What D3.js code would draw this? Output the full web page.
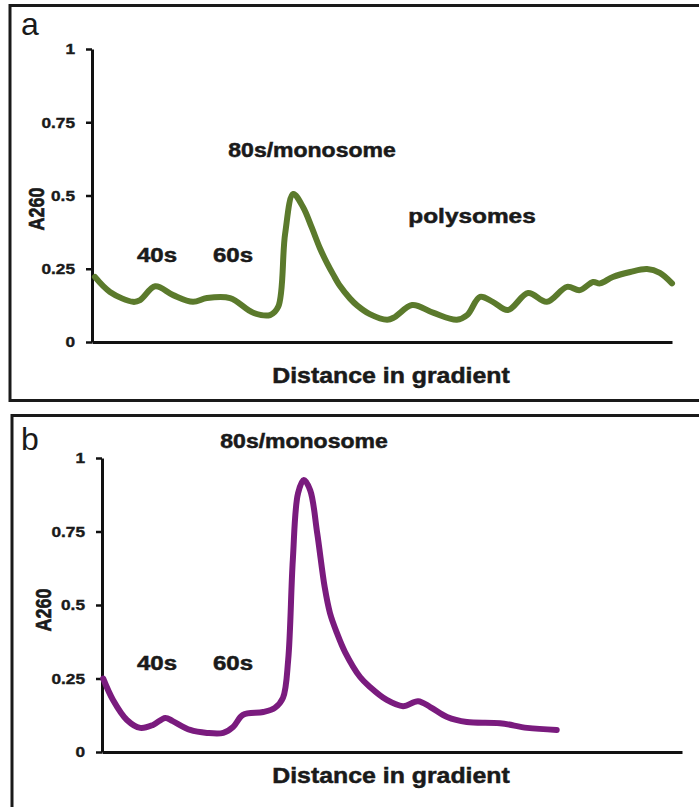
<!DOCTYPE html>
<html>
<head>
<meta charset="utf-8">
<script src="https://cdn.jsdelivr.net/npm/d3@7"></script>
<style>
  html, body { margin: 0; padding: 0; background: #fff; }
  svg { display: block; }
  text { font-family: "Liberation Sans", Arial, sans-serif; }
</style>
</head>
<body>
<svg id="chart" width="699" height="807"></svg>
<script>
// ---- data ----
const yTicks = [0, 0.25, 0.5, 0.75, 1];
const yTickLabels = ["0", "0.25", "0.5", "0.75", "1"];

// Panel a: distance in gradient (0-100) vs A260
const distA = [0.5, 3.1, 7.1, 8.3, 10.9, 14.0, 17.4, 19.8, 23.8, 27.8, 30.7, 32.1, 33.3, 34.7, 36.4, 37.9, 39.3, 40.5, 41.6, 42.8, 44.5, 45.7, 47.9, 50.9, 52.2, 55.2, 58.8, 62.9, 64.7, 66.9, 69.1, 71.7, 75.2, 78.4, 81.9, 84.1, 86.4, 87.6, 89.8, 92.8, 95.7, 97.9, 100];
const a260A = [0.222, 0.171, 0.137, 0.143, 0.19, 0.16, 0.137, 0.15, 0.15, 0.10, 0.092, 0.12, 0.37, 0.505, 0.46, 0.39, 0.32, 0.27, 0.23, 0.19, 0.148, 0.125, 0.095, 0.076, 0.085, 0.126, 0.10, 0.076, 0.092, 0.154, 0.137, 0.109, 0.167, 0.137, 0.188, 0.177, 0.205, 0.20, 0.222, 0.239, 0.249, 0.236, 0.20];

// Panel b
const distB = [0.2, 1.9, 4.3, 6.6, 8.8, 10.9, 12.2, 15.2, 18.1, 20.9, 22.6, 24.3, 27.8, 29.8, 31.2, 32.1, 32.9, 33.8, 34.8, 35.9, 37.1, 38.4, 39.3, 40.5, 41.9, 44.5, 46.2, 49.1, 51.9, 54.5, 56.6, 59.5, 62.9, 68.6, 73.3, 78.4];
const a260B = [0.25, 0.177, 0.109, 0.082, 0.092, 0.116, 0.105, 0.075, 0.065, 0.065, 0.085, 0.126, 0.136, 0.15, 0.184, 0.313, 0.653, 0.88, 0.925, 0.89, 0.745, 0.56, 0.473, 0.405, 0.34, 0.255, 0.221, 0.177, 0.156, 0.173, 0.153, 0.119, 0.102, 0.098, 0.082, 0.075];

const labelsA = ["40s", "60s", "80s/monosome", "polysomes"];
const labelsB = ["40s", "60s", "80s/monosome"];

// ---- drawing ----
const svg = d3.select("#chart");

function stretchedText(g, str, x, y, size, k, anchor) {
  return g.append("text")
    .attr("transform", `translate(${x},${y}) scale(${k},1)`)
    .attr("text-anchor", anchor || "middle")
    .attr("font-size", size)
    .attr("font-weight", "bold")
    .attr("fill", "#1a1a1a")
    .attr("stroke", "#1a1a1a").attr("stroke-width", 0.5)
    .text(str);
}

function panel(opts) {
  const g = svg.append("g");
  // border box (right/bottom edges run off the picture)
  g.append("rect")
    .attr("x", opts.box[0]).attr("y", opts.box[1])
    .attr("width", opts.box[2]).attr("height", opts.box[3])
    .attr("fill", "none").attr("stroke", "#1a1a1a").attr("stroke-width", 3);

  g.append("text")
    .attr("x", opts.letterPos[0]).attr("y", opts.letterPos[1])
    .attr("font-size", 32).attr("fill", "#1a1a1a")
    .text(opts.letter);

  const x = d3.scaleLinear().domain([0, 100]).range([opts.left, opts.right]);
  const y = d3.scaleLinear().domain([0, 1]).range([opts.bottom, opts.top]);

  // y axis
  const yAxis = d3.axisLeft(y).tickValues(yTicks)
    .tickFormat((d, i) => yTickLabels[i]).tickSize(6).tickSizeOuter(0);
  const ga = g.append("g").attr("transform", `translate(${opts.left},0)`).call(yAxis);
  ga.select(".domain").attr("stroke", "#111").attr("stroke-width", 3);
  ga.selectAll(".tick line").attr("stroke", "#111").attr("stroke-width", 2.5);
  ga.selectAll(".tick text")
    .attr("x", -17 / 1.15).attr("transform", "scale(1.15,1)")
    .attr("font-size", 15).attr("font-weight", "bold")
    .attr("font-family", "Liberation Sans, Arial, sans-serif")
    .attr("fill", "#1a1a1a")
    .attr("stroke", "#1a1a1a").attr("stroke-width", 0.4);

  // x axis (no ticks)
  const xAxis = d3.axisBottom(x).tickValues([]).tickSizeOuter(0);
  const gx = g.append("g").attr("transform", `translate(0,${opts.bottom})`).call(xAxis);
  gx.select(".domain").attr("stroke", "#111").attr("stroke-width", 3);

  // line
  const line = d3.line()
    .x((d, i) => x(opts.dist[i]))
    .y(d => y(d))
    .curve(d3.curveCatmullRom.alpha(0.5));
  g.append("path")
    .datum(opts.vals)
    .attr("d", line)
    .attr("fill", "none")
    .attr("stroke", opts.color)
    .attr("stroke-width", 6)
    .attr("stroke-linecap", "round")
    .attr("stroke-linejoin", "round");

  // axis titles
  stretchedText(g, "Distance in gradient", opts.xTitle[0], opts.xTitle[1], 22, 1.13);
  g.append("text")
    .attr("transform", `translate(${opts.yTitle[0]},${opts.yTitle[1]}) scale(1.25,1) rotate(-90)`)
    .attr("text-anchor", "middle")
    .attr("dy", "0.35em")
    .attr("font-size", 18).attr("font-weight", "bold").attr("fill", "#1a1a1a")
    .attr("stroke", "#1a1a1a").attr("stroke-width", 0.5)
    .text("A260");

  // peak annotations
  opts.labels.forEach((lab, i) => {
    const p = opts.labelPos[i];
    stretchedText(g, lab, p[0], p[1], p[2], p[3]);
  });
}

panel({
  box: [10, 5.5, 700, 395],
  letter: "a", letterPos: [21, 35],
  left: 92, right: 672, top: 49, bottom: 342,
  dist: distA, vals: a260A, color: "#5b7a2c",
  xTitle: [391, 383], yTitle: [36, 209],
  labels: labelsA,
  labelPos: [[157, 262, 20, 1.2], [233, 262, 20, 1.2], [312, 157, 19.5, 1.18], [472, 223, 20, 1.22]]
});

panel({
  box: [12, 415.5, 700, 400],
  letter: "b", letterPos: [21, 450],
  left: 102, right: 682, top: 458, bottom: 752,
  dist: distB, vals: a260B, color: "#7a1b7e",
  xTitle: [391, 783], yTitle: [43, 610],
  labels: labelsB,
  labelPos: [[157, 670, 20, 1.2], [233, 670, 20, 1.2], [304, 448, 19.5, 1.18]]
});
</script>
</body>
</html>
